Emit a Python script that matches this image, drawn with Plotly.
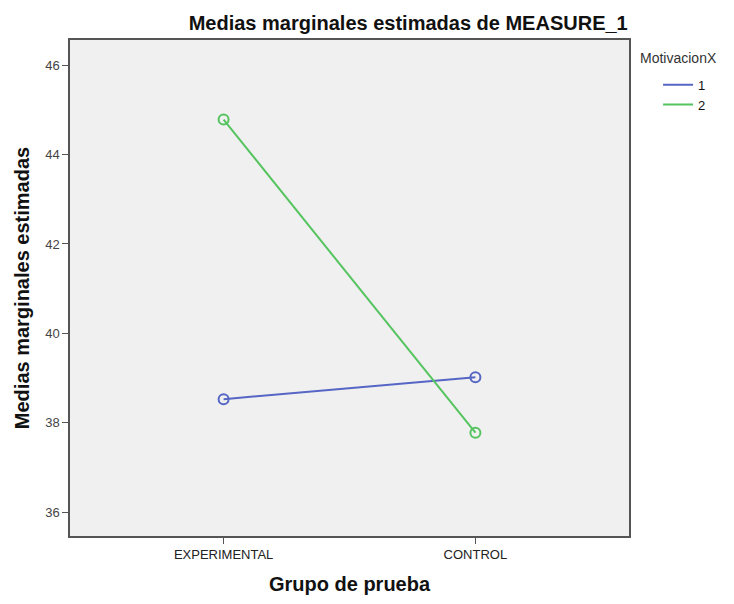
import plotly.graph_objects as go

categories = ["EXPERIMENTAL", "CONTROL"]
serie_1 = [38.53, 39.02]
serie_2 = [44.78, 37.78]
series_names = ["1", "2"]
colors = ["#5566c4", "#55c45f"]

fig = go.Figure()
for name, vals, col in zip(series_names, [serie_1, serie_2], colors):
    fig.add_trace(go.Scatter(
        x=categories, y=vals, mode="lines+markers", name=name, showlegend=False,
        line=dict(color=col, width=2),
        marker=dict(symbol="circle-open", size=10, color=col, line=dict(width=2, color=col)),
    ))
    fig.add_trace(go.Scatter(
        x=[None], y=[None], mode="lines", name=name, showlegend=True,
        line=dict(color=col, width=2),
    ))

font = "Liberation Sans, Arial, sans-serif"
fig.update_layout(
    width=734, height=604,
    margin=dict(l=70, r=105, t=40, b=64),
    paper_bgcolor="white", plot_bgcolor="#f0f0f0",
    font=dict(family=font, size=12, color="#333333"),
    title=dict(text="<b>Medias marginales estimadas de MEASURE_1</b>",
               x=0.605, xanchor="center", y=0.962, yanchor="middle", xref="paper",
               font=dict(size=20, color="#111111")),
    showlegend=True,
    legend=dict(x=1.052, xanchor="left", y=0.94, yanchor="top",
                bgcolor="rgba(0,0,0,0)", font=dict(size=13, color="#111111"),
                tracegroupgap=0, itemwidth=30),
    annotations=[dict(text="MotivacionX", xref="paper", yref="paper", x=1.016, y=1.0,
                      xanchor="left", yanchor="middle", yshift=-18, showarrow=False,
                      font=dict(size=14, color="#333333"))],
)
fig.update_xaxes(
    type="category", range=[-0.61, 1.61],
    showline=True, linecolor="#555555", linewidth=1.5, mirror=True,
    ticks="outside", ticklen=6, tickcolor="#555555",
    showgrid=False, zeroline=False,
    tickfont=dict(size=13, color="#222222"),
    title=dict(text="<b>Grupo de prueba</b>", font=dict(size=20, color="#111111"), standoff=16),
)
fig.update_yaxes(
    range=[35.47, 46.56], tickvals=[36, 38, 40, 42, 44, 46],
    showline=True, linecolor="#555555", linewidth=1.5, mirror=True,
    ticks="outside", ticklen=6, tickcolor="#555555",
    showgrid=False, zeroline=False,
    tickfont=dict(size=13, color="#444444"),
    title=dict(text="<b>Medias marginales estimadas</b>", font=dict(size=20, color="#111111"), standoff=10),
)
fig.write_html("out.html")
